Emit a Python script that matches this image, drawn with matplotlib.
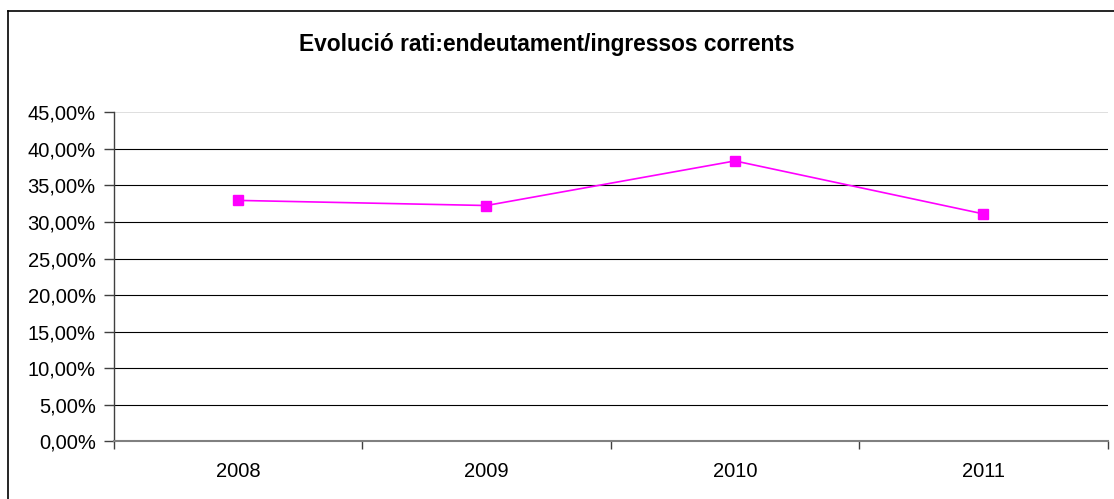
import matplotlib.pyplot as plt
from matplotlib.lines import Line2D

years = ["2008", "2009", "2010", "2011"]
ratio = [32.95, 32.25, 38.35, 31.1]
yticks = [0, 5, 10, 15, 20, 25, 30, 35, 40, 45]

plt.rcParams['font.family'] = ['Liberation Sans', 'DejaVu Sans']

fig = plt.figure(figsize=(11.14, 4.99), dpi=100)
ax = fig.add_axes([113.7 / 1114, 1 - 441.3 / 499, (1107.7 - 113.7) / 1114, (441.3 - 112.3) / 499])

# gridlines
for v in yticks[1:-1]:
    ax.axhline(v, color='black', lw=0.8, zorder=1)
ax.axhline(45, color='#d9d9d9', lw=1.2, zorder=1)

x = range(len(years))
ax.plot(x, ratio, color='#ff00ff', lw=1.2, marker='s', markersize=7, zorder=3)

ax.set_xlim(-0.5, len(years) - 0.5)
ax.set_ylim(0, 45)
ax.set_yticks(yticks)
ax.set_yticklabels([f"{v:.2f}".replace('.', ',') + '%' for v in yticks], fontsize=14.5)
ax.set_xticks(list(x))
ax.set_xticklabels(years, fontsize=14.5)
ax.set_xticks([i - 0.5 for i in range(len(years) + 1)], minor=True)
ax.tick_params(axis='x', which='major', length=0, pad=15)
ax.tick_params(axis='x', which='minor', length=6, width=1, color='#404040')
ax.tick_params(axis='y', length=7, width=1, color='#404040', pad=6)

for s in ['top', 'right']:
    ax.spines[s].set_visible(False)
ax.spines['left'].set_color('#404040')
ax.spines['left'].set_linewidth(1)
ax.spines['bottom'].set_color('#808080')
ax.spines['bottom'].set_linewidth(1.5)
ax.spines['left'].set_bounds(0, 45)

fig.text(547 / 1114, 1 - 45 / 499, "Evolució rati:endeutament/ingressos corrents",
         ha='center', va='center', fontsize=16.4, fontweight='bold')

# outer chart border (left and top visible)
fig.add_artist(Line2D([7.5 / 1114, 7.5 / 1114], [0, 1 - 10.5 / 499], transform=fig.transFigure,
                      color='black', lw=1.2))
fig.add_artist(Line2D([7.5 / 1114, 1], [1 - 10.5 / 499, 1 - 10.5 / 499], transform=fig.transFigure,
                      color='black', lw=1.2))

fig.savefig("out.png", dpi=100)
